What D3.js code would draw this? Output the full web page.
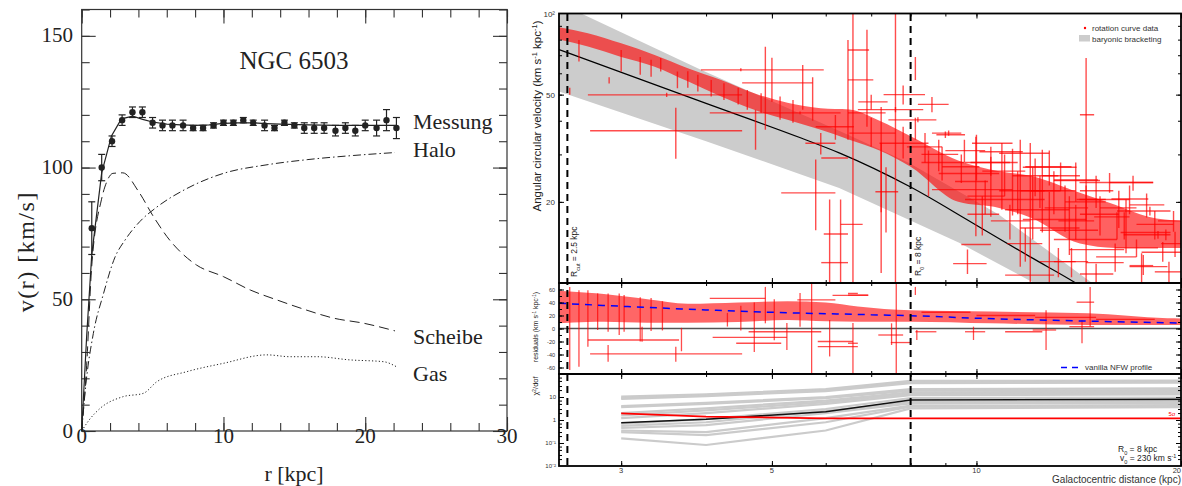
<!DOCTYPE html>
<html>
<head>
<meta charset="utf-8">
<script src="https://d3js.org/d3.v7.min.js"></script>
<style>
  body { margin: 0; background: #fff; }
  svg { display: block; }
</style>
</head>
<body>
<svg width="1182" height="486"></svg>
<script>
// ---------- left chart: NGC 6503 ----------
var messR   = [0.71, 1.41, 2.14, 2.85, 3.58, 4.28, 5.0, 5.7, 6.4, 7.15, 7.86, 8.56, 9.3, 10.0, 10.7, 11.4, 12.1, 12.9, 13.6, 14.3, 15.0, 15.7, 16.4, 17.1, 17.9, 18.6, 19.3, 20.0, 20.8, 21.5, 22.2];
var messV   = [77, 100, 110, 118, 121, 121, 117, 116, 116, 116, 115, 115, 116, 117, 117, 118, 117, 116, 115, 117, 116, 115, 115, 115, 114, 115, 114, 116, 115, 118, 115];
var messErr = [10, 5, 2, 2, 2, 2, 2, 2, 2, 2, 1, 1, 1, 1, 1, 1, 1, 2, 1, 1, 1, 2, 2, 2, 2, 2, 2, 2, 3, 4, 4];

var fitCurve  = [[0, 0], [0.35, 36], [0.71, 67], [1.41, 98], [2.1, 112], [2.8, 118.5], [3.6, 119.5], [4.3, 118.3], [5, 117.3], [6, 116.5], [7, 116.2], [8, 116], [9, 116.2], [10, 116.8], [11, 117], [12, 117], [13, 116.7], [14, 116.5], [16, 116.2], [18, 116], [20, 116], [22.2, 116]];
var haloCurve = [[0, 0], [0.3, 18], [0.82, 37], [1.53, 52], [2.35, 66], [3.06, 72.5], [4.1, 79.5], [5.3, 85], [7.4, 92], [10, 97.8], [13, 101], [15.9, 103], [19.2, 104.6], [22.1, 105.7]];
var diskCurve = [[0, 0], [0.35, 25], [0.7, 62], [1.4, 88], [1.76, 94.5], [2.2, 97.8], [2.9, 98], [4, 91], [5.06, 81.4], [6.2, 72.5], [7.06, 67.5], [8.1, 63], [10, 58.6], [11.9, 53.5], [13.8, 49.7], [15.8, 46], [17.8, 42.8], [19.9, 40.9], [22.1, 38]];
var gasCurve  = [[0, 0], [0.5, 4], [1.3, 8.6], [2.9, 13], [4.35, 14.3], [5.3, 18.7], [7.4, 22.5], [10, 25.7], [13.06, 28.9], [14.7, 28.2], [16.6, 28.2], [18.9, 27], [21.3, 26.3], [22.2, 24.4]];

var curveLabels = ["Messung", "Halo", "Scheibe", "Gas"];
var curveLabelV = [117.5, 107, 35.8, 21.7];
var leftXLabels = [0, 10, 20, 30];
var leftYLabels = [0, 50, 100, 150];

// ---------- right chart: Milky Way ----------
var bandUpper = [[2.43, 109], [2.62, 100], [3.93, 61.8], [6.47, 35.5], [7.96, 27.9], [10.8, 17.9], [14.8, 10], [20, 6]];
var bandLower = [[2.43, 51.3], [4, 33.6], [6.28, 22.5], [9.43, 14.1], [12.16, 10], [20, 5]];
var baryFit   = [[2.43, 73.5], [4, 46.4], [5.52, 34.5], [6.28, 30.4], [8, 22.7], [9.87, 16.7], [12, 12.5], [14, 10], [16, 8]];

// dense cloud of data points (envelope)
var denseR  = [2.43, 2.68, 3.0, 3.36, 3.76, 4.21, 4.71, 5.27, 5.9, 6.5, 7.2, 8.0, 9.4, 10.8, 12.0, 14.2, 16.0, 17.9, 20.0];
var denseHi = [89, 84.5, 77.5, 70.2, 62.7, 56.7, 50.6, 46.6, 44.5, 44, 40, 35, 28.5, 26, 25, 21.6, 19.5, 17.6, 17];
var denseLo = [80, 75.4, 69, 63.5, 56, 49.2, 43.9, 40.3, 37, 34, 31, 27, 20, 19, 17.5, 14, 13.5, 13.5, 13.5];

// short error streaks in the inner part [r, vLo, vHi]
var innerSpikes = [[2.52, 50, 53], [2.6, 66.3, 79.7], [2.88, 55, 58], [3.0, 60.9, 73.2], [3.2, 59.2, 69], [3.32, 58.3, 67.3], [3.43, 60.9, 68.3], [3.63, 52.8, 60.9], [3.76, 53, 61], [3.89, 51.3, 59.2], [4.07, 49.2, 56.7], [4.25, 47.8, 55.1], [4.46, 46, 53], [4.6, 43.9, 52], [4.82, 42.7, 50.6], [5.14, 40.3, 49.2], [5.37, 39.3, 47.8]];

// individual error bars [r, v, rLo, rHi, vLo, vHi]
var curveBars = [
  [3.50, 49.9, 2.68, 4.52, 49.0, 50.8], [3.61, 36.7, 2.70, 4.52, 28.9, 44.7], [4.50, 61.8, 3.93, 5.96, 61.0, 62.6],
  [4.89, 55.3, 4.52, 5.74, 37.0, 75.3], [5.00, 60.0, 5.00, 5.00, 47.0, 68.5], [5.55, 52.0, 5.55, 5.55, 43.9, 64.4],
  [5.74, 48.0, 5.74, 5.74, 40.0, 58.0], [4.73, 37.0, 4.73, 4.73, 31.2, 43.9], [5.50, 42.8, 4.05, 6.31, 42.3, 43.3],
  [6.47, 45.0, 6.47, 6.47, 34.0, 79.7], [6.10, 29.1, 5.91, 6.47, 29.1, 29.1], [5.80, 21.6, 5.16, 6.20, 15.7, 28.7],
  [6.08, 15.0, 6.08, 6.08, 10.0, 20.4], [6.20, 15.2, 5.96, 6.47, 15.2, 15.2], [6.31, 11.9, 5.91, 6.47, 10.0, 20.4],
  [6.58, 40.0, 6.58, 6.58, 10.0, 100], [7.60, 40.0, 7.60, 7.60, 10.0, 100], [6.90, 55.0, 6.90, 6.90, 38.0, 87.0],
  [6.70, 73.2, 6.47, 6.95, 73.2, 73.2], [6.80, 56.7, 6.47, 7.05, 56.7, 56.7], [7.24, 30.0, 7.24, 7.24, 18.3, 45.0],
  [6.90, 42.8, 6.47, 7.35, 42.8, 42.8], [7.36, 21.8, 7.10, 7.67, 15.4, 26.9], [8.13, 62.0, 8.13, 8.13, 56.7, 69.0],
  [8.13, 37.0, 8.13, 8.13, 34.0, 41.0], [9.00, 35.5, 8.73, 9.62, 34.5, 36.5], [9.98, 22.0, 9.98, 9.98, 14.9, 34.9],
  [10.5, 23.0, 10.5, 10.5, 17.6, 29.4], [9.80, 23.8, 9.30, 10.4, 23.8, 23.8], [12.0, 18.0, 12.0, 12.0, 10.0, 33.1],
  [12.1, 20.0, 12.1, 12.1, 14.5, 26.9], [12.5, 20.0, 12.5, 12.5, 15.4, 31.2], [14.5, 42.1, 14.2, 14.9, 10.0, 68.4],
  [15.7, 23.6, 14.18, 18.2, 21.6, 25.6], [16.6, 16.0, 16.6, 16.6, 12.9, 20.4], [17.8, 15.4, 16.3, 19.3, 15.4, 15.4],
  [17.5, 11.5, 16.8, 19.1, 10.0, 12.9], [15.8, 17.6, 14.9, 16.8, 17.6, 17.6], [12.5, 16.0, 11.6, 14.18, 16.0, 16.0],
  [15.5, 11.9, 14.5, 16.47, 11.9, 11.9], [12.0, 10.7, 11.02, 13.01, 10.7, 10.7], [10.0, 13.9, 9.5, 10.5, 13.9, 13.9],
  [15.5, 20.4, 14.18, 16.8, 20.4, 20.4], [9.70, 11.8, 9.24, 10.35, 10.8, 13.3], [7.24, 20.0, 7.24, 7.24, 10.9, 33.1],
  [6.60, 16.5, 6.31, 6.80, 16.5, 16.5], [17.0, 23.6, 15.7, 18.2, 22.0, 25.0], [18.5, 15.1, 16.47, 19.3, 14.6, 15.6],
  [17.6, 11.6, 16.8, 18.2, 10.7, 12.7], [16.1, 16.0, 16.1, 16.1, 14.5, 18.3], [11.0, 26.0, 10.2, 11.8, 21.0, 30.0],
  [11.5, 22.0, 10.8, 12.6, 18.0, 26.0], [12.2, 25.0, 11.3, 13.2, 21.0, 29.0], [13.0, 22.0, 12.0, 14.0, 18.0, 26.0],
  [13.5, 19.0, 12.6, 14.6, 15.5, 23.0], [14.0, 24.0, 13.0, 15.2, 20.0, 28.0], [10.5, 28.0, 9.8, 11.2, 25.0, 32.0],
  [9.50, 27.0, 8.9, 10.1, 23.5, 30.0], [8.80, 30.0, 8.3, 9.4, 26.0, 34.0], [8.40, 32.0, 7.9, 8.9, 28.0, 36.0],
  [12.8, 27.0, 11.8, 13.8, 23.0, 31.0], [14.5, 20.0, 13.5, 15.5, 17.0, 23.0], [15.2, 18.0, 14.2, 16.2, 15.0, 21.0],
  [16.2, 19.0, 15.2, 17.2, 16.0, 22.0], [10.2, 18.0, 9.7, 10.8, 15.0, 21.0], [10.0, 30.0, 10.0, 10.0, 24.0, 35.5],
  [10.9, 24.0, 10.9, 10.9, 18.7, 33.1], [11.3, 23.0, 11.3, 11.3, 17.8, 31.5], [11.6, 20.0, 11.6, 11.6, 11.5, 34.0],
  [12.8, 15.0, 12.8, 12.8, 10.0, 21.8], [13.7, 16.0, 13.7, 13.7, 12.7, 21.0], [10.8, 30.7, 10.1, 11.7, 30.7, 30.7],
  [10.5, 28.0, 9.62, 11.5, 28.0, 28.0], [9.90, 25.5, 8.8, 10.8, 25.5, 25.5], [9.90, 22.2, 8.6, 11.3, 22.2, 22.2],
  [11.1, 20.4, 9.62, 12.6, 20.4, 20.4], [12.3, 18.7, 11.02, 13.7, 18.7, 18.7], [13.0, 17.2, 11.7, 14.5, 17.2, 17.2],
  [13.5, 15.7, 12.4, 15.1, 15.7, 15.7], [14.3, 14.5, 13.0, 16.1, 14.5, 14.5], [14.8, 13.3, 13.7, 16.5, 13.3, 13.3],
  [14.7, 20.4, 14.04, 15.5, 20.4, 20.4], [14.2, 24.1, 13.0, 15.1, 24.1, 24.1], [12.6, 26.9, 11.7, 14.04, 26.9, 26.9],
  [11.7, 30.3, 10.8, 12.8, 30.3, 30.3], [10.4, 33.0, 9.85, 11.3, 33.0, 33.0], [9.10, 36.0, 8.6, 9.5, 35.2, 36.8],
  [8.20, 40.3, 7.42, 8.73, 39.5, 41.2], [7.60, 44.0, 6.69, 8.35, 43.0, 45.0], [18.0, 18.5, 16.1, 19.3, 17.8, 19.2],
  [19.0, 15.1, 19.0, 19.0, 14.4, 15.8], [16.5, 16.0, 16.5, 16.5, 14.5, 18.3], [8.50, 26.0, 8.50, 8.50, 21.0, 31.0],
  [16.0, 12.5, 15.0, 17.2, 11.0, 14.0], [18.8, 13.0, 17.5, 20.0, 12.0, 14.2], [15.0, 10.8, 14.2, 15.9, 10.0, 11.8],
  [19.5, 17.0, 18.5, 20.0, 15.5, 18.5], [13.2, 12.0, 12.4, 14.0, 10.5, 13.5], [17.2, 13.5, 16.0, 18.5, 12.5, 14.5],
  [19.2, 11.0, 18.3, 20.0, 10.0, 12.0], [7.80, 50.0, 7.30, 8.40, 46.0, 54.0], [8.60, 46.0, 8.20, 9.10, 43.0, 49.0],
  [7.00, 47.0, 6.70, 7.40, 44.0, 50.0], [7.00, 36.0, 6.50, 7.60, 32.0, 41.0], [7.80, 33.0, 7.20, 8.50, 29.0, 38.0],
  [8.90, 28.0, 8.30, 9.60, 24.0, 32.0], [9.60, 31.0, 9.00, 10.3, 28.0, 34.0], [10.3, 21.0, 9.70, 11.0, 18.0, 24.0],
  [11.2, 17.0, 10.5, 12.0, 14.5, 19.5], [12.4, 22.0, 11.6, 13.3, 19.0, 25.0], [13.3, 25.0, 12.5, 14.2, 22.0, 28.0],
  [14.0, 17.0, 13.2, 14.9, 14.5, 19.5], [15.0, 22.0, 14.2, 15.9, 19.0, 25.0], [16.8, 20.5, 15.8, 17.9, 18.0, 23.0],
  [18.3, 16.5, 17.2, 19.5, 14.5, 18.5], [19.6, 14.0, 18.7, 20.0, 12.5, 15.5], [17.8, 19.5, 16.8, 18.9, 17.5, 21.5],
  [13.8, 12.0, 13.0, 14.6, 10.5, 13.5], [11.8, 14.0, 11.1, 12.5, 12.0, 16.0], [6.20, 38.0, 5.80, 6.60, 34.0, 42.0],
  [5.90, 33.0, 5.60, 6.20, 30.0, 36.0]
];

// residual panel
var resR  = [2.43, 2.68, 2.83, 3.28, 3.76, 4.46, 5.27, 6.0, 6.69, 8.0, 10.5, 14.6, 19.1, 20];
var resHi = [58, 55, 53, 45, 38, 40, 42, 40, 34, 28, 26, 23.4, 15.8, 15.5];
var resLo = [8, 10, 10.5, 9, 9, 10, 13, 11, 10.5, 10.5, 8, 5.4, 5.4, 5.4];
var resSpikes = [[2.52, -64, 64], [2.6, -59, 59], [2.68, -28, 59], [2.77, -2.3, 54], [2.87, -5, 54], [2.98, -10, 54], [3.03, -5, 51.5], [3.2, -20, 48], [3.32, -4, 47], [3.45, -3, 42], [4.3, 3, 24], [4.5, -3, 35], [4.71, -36, 40], [5.04, -18, 45]];
var residBars = [
  [3.22, -17.7, 2.68, 3.65, -20.3, 2.8], [2.87, -39.0, 2.70, 4.52, -51.0, -25.4], [3.61, -40.0, 3.61, 3.61, -51.0, -28.0],
  [4.60, -13.5, 4.09, 5.26, -13.5, -13.5], [4.90, -22.7, 4.43, 5.16, -22.7, -22.7], [4.89, 46.5, 4.05, 4.89, 8.0, 64.0],
  [5.72, 0, 5.72, 5.72, -70, 70], [6.58, -40, 6.58, 6.58, -70, 8.5], [6.20, -28, 5.84, 6.69, -28, -28],
  [6.08, -15, 6.08, 6.08, -43, 13], [5.60, 44, 5.45, 6.20, 44, 44], [6.50, 51, 6.14, 6.93, 51, 51],
  [5.50, 30, 5.50, 5.50, 2.8, 54.6], [5.10, -5, 4.62, 5.91, -5, -5], [6.20, -20, 5.84, 6.58, -20, -20],
  [7.62, 0, 7.62, 7.62, -70, 70], [7.70, -21.6, 7.48, 8.02, -21.6, -21.6], [8.13, 58, 8.13, 8.13, 51.5, 64],
  [8.17, -10, 8.17, 8.17, -17.7, -2.3], [8.40, -5, 8.13, 8.73, -5, -5], [7.50, -10, 7.17, 7.80, -25.4, 8],
  [9.90, -5, 9.62, 10.3, -17.7, 2.8], [11.7, -5, 11.02, 12.5, -5, -5], [14.7, 40.5, 14.04, 14.9, 3, 64],
  [14.3, -5, 14.3, 14.3, -22.7, 13], [12.66, -2.3, 12.1, 13.1, -33, 28], [14.2, 2.8, 13.7, 14.9, 2.8, 2.8],
  [6.60, 54, 6.47, 6.69, 54, 54], [6.65, 51.5, 6.47, 6.93, 51.5, 51.5], [6.60, -22.7, 6.47, 6.69, -22.7, -22.7],
  [5.26, -20, 5.26, 5.26, -33, 8.5], [3.68, -10, 3.68, 3.68, -35, 1],
  [11.0, 20, 10.0, 12.2, 20, 20], [13.5, 17, 12.2, 15.0, 17, 17], [16.5, 14, 15.0, 18.3, 14, 14], [9.0, 25, 8.3, 9.8, 25, 25]
];
var nfwR = [2.43, 3.5, 5, 7, 8, 10.1, 13, 20];
var nfwV = [38.8, 31.1, 24.9, 21.2, 19.7, 15.7, 12.6, 8.3];

// chi^2 panel
var chiR = [3, 4, 6, 8, 20];
var chiGrey = [
  [10.3, 13, 22, 50, 52], [9.2, 12, 20, 44, 46], [8.3, 11, 18, 40, 42],
  [4.0, 5.5, 10, 22, 24], [3.6, 5.0, 9, 19, 20], [2.0, 3.2, 7, 16, 17],
  [1.6, 2.6, 6, 14, 15], [1.2, 2.0, 5, 12, 13], [0.7, 1.1, 3, 9, 9.5],
  [0.55, 0.8, 2.5, 6, 6.2], [0.45, 0.6, 2, 5.3, 5.5], [0.35, 0.3, 1.2, 4.2, 4.4],
  [0.3, 0.22, 0.8, 3.8, 4], [0.16, 0.082, 0.35, 3.2, 3.6]
];
var chiBest = [0.76, 1.07, 2.3, 7.4, 7.9];
var chi5sig = [1.95, 1.4, 1.18, 1.18, 1.18];

var rCut = 2.5, rSun = 8;
var xTickLabels = [3, 5, 10, 20];
var xTicks = [3, 4, 5, 6, 7, 8, 9, 10, 20];

var svg = d3.select("svg");
var serif = "'Liberation Serif', 'Times New Roman', serif";
var sans = "'Liberation Sans', Arial, Helvetica, sans-serif";

// ================= left chart =================
var L = svg.append("g");
var lx = d3.scaleLinear().domain([0, 30]).range([81.7, 507]);
var ly = d3.scaleLinear().domain([0, 160]).range([431, 9.5]);

function inward(parent, axisFn, scale, vals, len, tr) {
  var g = parent.append("g").attr("transform", tr)
    .call(axisFn(scale).tickValues(vals).tickSize(-len).tickSizeOuter(0).tickFormat(""));
  g.select(".domain").remove();
  return g;
}

var ax = [];
ax.push(inward(L, d3.axisBottom, lx, d3.range(0, 31, 2), 8, "translate(0," + ly(0) + ")"));
ax.push(inward(L, d3.axisBottom, lx, [0, 10, 20, 30], 14, "translate(0," + ly(0) + ")"));
ax.push(inward(L, d3.axisTop, lx, d3.range(0, 31, 2), 8, "translate(0," + ly(160) + ")"));
ax.push(inward(L, d3.axisTop, lx, [0, 10, 20, 30], 14, "translate(0," + ly(160) + ")"));
ax.push(inward(L, d3.axisLeft, ly, d3.range(0, 161, 10), 8, "translate(" + lx(0) + ",0)"));
ax.push(inward(L, d3.axisLeft, ly, [0, 50, 100, 150], 14, "translate(" + lx(0) + ",0)"));
ax.push(inward(L, d3.axisRight, ly, d3.range(0, 161, 10), 8, "translate(" + lx(30) + ",0)"));
ax.push(inward(L, d3.axisRight, ly, [0, 50, 100, 150], 14, "translate(" + lx(30) + ",0)"));
ax.forEach(function (g) { g.selectAll("line").attr("stroke", "#333").attr("stroke-width", 1.1); });

L.append("rect")
  .attr("x", lx(0)).attr("y", ly(160))
  .attr("width", lx(30) - lx(0)).attr("height", ly(0) - ly(160))
  .attr("fill", "none").attr("stroke", "#333").attr("stroke-width", 1.2);

L.selectAll(".xl").data(leftXLabels).enter().append("text")
  .attr("x", function (d) { return lx(d); }).attr("y", 443)
  .attr("text-anchor", "middle").attr("font-family", serif).attr("font-size", 21).attr("fill", "#222")
  .text(function (d) { return d; });
L.selectAll(".yl").data(leftYLabels).enter().append("text")
  .attr("x", 73).attr("y", function (d) { return ly(d) + 6.5; })
  .attr("text-anchor", "end").attr("font-family", serif).attr("font-size", 21).attr("fill", "#222")
  .text(function (d) { return d; });

var lline = d3.line().x(function (d) { return lx(d[0]); }).y(function (d) { return ly(d[1]); });
var lsmooth = d3.line().x(function (d) { return lx(d[0]); }).y(function (d) { return ly(d[1]); }).curve(d3.curveMonotoneX);

L.append("path").attr("d", lsmooth(haloCurve)).attr("fill", "none").attr("stroke", "#222").attr("stroke-width", 1)
  .attr("stroke-dasharray", "8,3,1.5,3");
L.append("path").attr("d", lsmooth(diskCurve)).attr("fill", "none").attr("stroke", "#222").attr("stroke-width", 1)
  .attr("stroke-dasharray", "10,5");
L.append("path").attr("d", lsmooth(gasCurve)).attr("fill", "none").attr("stroke", "#222").attr("stroke-width", 1)
  .attr("stroke-dasharray", "1.2,2.2");
L.append("path").attr("d", lline(fitCurve)).attr("fill", "none").attr("stroke", "#222").attr("stroke-width", 1.2);

var pts = L.append("g").attr("stroke", "#222").attr("stroke-width", 1.2);
messR.forEach(function (r, i) {
  var x = lx(r), y0 = ly(messV[i] - messErr[i]), y1 = ly(messV[i] + messErr[i]);
  pts.append("line").attr("x1", x).attr("x2", x).attr("y1", y0).attr("y2", y1);
  pts.append("line").attr("x1", x - 3.5).attr("x2", x + 3.5).attr("y1", y0).attr("y2", y0);
  pts.append("line").attr("x1", x - 3.5).attr("x2", x + 3.5).attr("y1", y1).attr("y2", y1);
});
L.selectAll(".pt").data(messR).enter().append("circle")
  .attr("cx", function (d) { return lx(d); })
  .attr("cy", function (d, i) { return ly(messV[i]); })
  .attr("r", 3.2).attr("fill", "#222");

L.selectAll(".cl").data(curveLabels).enter().append("text")
  .attr("x", 413).attr("y", function (d, i) { return ly(curveLabelV[i]) + 7.5; })
  .attr("font-family", serif).attr("font-size", 22).attr("fill", "#222")
  .text(function (d) { return d; });
L.append("text").attr("x", 294).attr("y", 69).attr("text-anchor", "middle")
  .attr("font-family", serif).attr("font-size", 25).attr("fill", "#222").text("NGC 6503");
L.append("text").attr("x", 294).attr("y", 481).attr("text-anchor", "middle")
  .attr("font-family", serif).attr("font-size", 22).attr("fill", "#222").text("r [kpc]");
L.append("text").attr("transform", "translate(34,251.7) rotate(-90)").attr("text-anchor", "middle")
  .attr("font-family", serif).attr("font-size", 24).attr("letter-spacing", 1.5).attr("fill", "#222").text("v(r) [km/s]");

// ================= right chart =================
var R = svg.append("g");
var rx = d3.scaleLog().domain([2.43, 20]).range([559, 1181]);
var vy = d3.scaleLog().domain([10, 100]).range([283, 13.5]);
var ry = d3.scaleLinear().domain([-70, 70]).range([374, 283]);
var cy = d3.scaleLog().domain([0.01, 100]).range([466, 374]);

var defs = svg.append("defs");
function clip(id, y0, y1) {
  defs.append("clipPath").attr("id", id).append("rect")
    .attr("x", rx.range()[0]).attr("y", y0)
    .attr("width", rx.range()[1] - rx.range()[0]).attr("height", y1 - y0);
}
clip("cTop", 13.5, 283); clip("cRes", 283, 374); clip("cChi", 374, 466);

function drawBars(g, data, yS) {
  g.selectAll(null).data(data.filter(function (d) { return d[2] < d[3]; })).enter().append("line")
    .attr("x1", function (d) { return rx(d[2]); }).attr("x2", function (d) { return rx(d[3]); })
    .attr("y1", function (d) { return yS(d[1]); }).attr("y2", function (d) { return yS(d[1]); });
  g.selectAll(null).data(data.filter(function (d) { return d[4] < d[5]; })).enter().append("line")
    .attr("x1", function (d) { return rx(d[0]); }).attr("x2", function (d) { return rx(d[0]); })
    .attr("y1", function (d) { return yS(d[4]); }).attr("y2", function (d) { return yS(d[5]); });
}

// --- top panel ---
var topG = R.append("g").attr("clip-path", "url(#cTop)");
var pline = d3.line().x(function (d) { return rx(d[0]); }).y(function (d) { return vy(d[1]); });
topG.append("path").attr("d", pline(bandUpper.concat(bandLower.slice().reverse())) + "Z").attr("fill", "#cccccc");
topG.append("path").attr("d", pline.curve(d3.curveMonotoneX)(baryFit)).attr("fill", "none").attr("stroke", "#000").attr("stroke-width", 1.2);
topG.append("path")
  .attr("d", d3.area().x(function (d, i) { return rx(denseR[i]); })
    .y0(function (d, i) { return vy(denseLo[i]); }).y1(function (d, i) { return vy(denseHi[i]); })
    .curve(d3.curveMonotoneX)(denseR))
  .attr("fill", "#ff0000").attr("fill-opacity", 0.62);
var topBars = topG.append("g").attr("stroke", "#ff0000").attr("stroke-opacity", 0.7).attr("stroke-width", 1.4);
topBars.selectAll(null).data(innerSpikes).enter().append("line")
  .attr("x1", function (d) { return rx(d[0]); }).attr("x2", function (d) { return rx(d[0]); })
  .attr("y1", function (d) { return vy(d[1]); }).attr("y2", function (d) { return vy(d[2]); });
drawBars(topBars, curveBars, vy);

// --- residual panel ---
var res = R.append("g").attr("clip-path", "url(#cRes)");
res.append("line").attr("x1", rx.range()[0]).attr("x2", rx.range()[1])
  .attr("y1", ry(0)).attr("y2", ry(0)).attr("stroke", "#555").attr("stroke-width", 1.3);
res.append("path")
  .attr("d", d3.area().x(function (d, i) { return rx(resR[i]); })
    .y0(function (d, i) { return ry(resLo[i]); }).y1(function (d, i) { return ry(resHi[i]); })
    .curve(d3.curveMonotoneX)(resR))
  .attr("fill", "#ff0000").attr("fill-opacity", 0.6);
var resG = res.append("g").attr("stroke", "#ff0000").attr("stroke-opacity", 0.7).attr("stroke-width", 1.3);
resG.selectAll(null).data(resSpikes).enter().append("line")
  .attr("x1", function (d) { return rx(d[0]); }).attr("x2", function (d) { return rx(d[0]); })
  .attr("y1", function (d) { return ry(d[1]); }).attr("y2", function (d) { return ry(d[2]); });
drawBars(resG, residBars, ry);
res.append("path")
  .attr("d", d3.line().x(function (d) { return rx(d); }).y(function (d, i) { return ry(nfwV[i]); }).curve(d3.curveMonotoneX)(nfwR))
  .attr("fill", "none").attr("stroke", "#0000ff").attr("stroke-width", 1.5).attr("stroke-dasharray", "7,6");

// --- chi^2 panel ---
var chi = R.append("g").attr("clip-path", "url(#cChi)");
var cline = d3.line().x(function (d, i) { return rx(chiR[i]); }).y(function (d) { return cy(d); });
chi.selectAll(null).data(chiGrey).enter().append("path")
  .attr("d", cline).attr("fill", "none").attr("stroke", "#cbcbcb").attr("stroke-width", 2.2);
chi.append("path").attr("d", cline(chiBest)).attr("fill", "none").attr("stroke", "#111").attr("stroke-width", 1.6);
chi.append("path").attr("d", cline(chi5sig)).attr("fill", "none").attr("stroke", "#ff0000").attr("stroke-width", 1.8);

// --- frames and ticks ---
function panelTicks(yS, y0, y1, yMinor, yMajor) {
  var g = R.append("g");
  [[d3.axisBottom, y1], [d3.axisTop, y0]].forEach(function (p) {
    inward(g, p[0], rx, xTicks, 3, "translate(0," + p[1] + ")");
    inward(g, p[0], rx, xTickLabels, 5, "translate(0," + p[1] + ")");
  });
  [[d3.axisLeft, rx.range()[0]], [d3.axisRight, rx.range()[1]]].forEach(function (p) {
    inward(g, p[0], yS, yMinor, 3, "translate(" + p[1] + ",0)");
    inward(g, p[0], yS, yMajor, 5, "translate(" + p[1] + ",0)");
  });
  g.selectAll("line").attr("stroke", "#000").attr("stroke-width", 1);
  R.append("rect").attr("x", rx.range()[0]).attr("y", y0)
    .attr("width", rx.range()[1] - rx.range()[0]).attr("height", y1 - y0)
    .attr("fill", "none").attr("stroke", "#000").attr("stroke-width", 1.8);
}
panelTicks(vy, 13.5, 283, [20, 30, 40, 50, 60, 70, 80, 90], [20, 50]);
panelTicks(ry, 283, 374, d3.range(-60, 61, 10), [-60, -40, -20, 0, 20, 40, 60]);
panelTicks(cy, 374, 466, [0.02, 0.03, 0.05, 0.07, 0.2, 0.3, 0.5, 0.7, 2, 3, 5, 7, 20, 30, 50, 70], [0.1, 1, 10]);

// dashed reference radii
R.selectAll(".ref").data([rCut, rSun]).enter().append("line")
  .attr("x1", function (d) { return rx(d); }).attr("x2", function (d) { return rx(d); })
  .attr("y1", 14).attr("y2", 466)
  .attr("stroke", "#000").attr("stroke-width", 2).attr("stroke-dasharray", "7,5");

// tick labels
var tl = R.append("g").attr("font-family", sans).attr("fill", "#333");
tl.selectAll(null).data(xTickLabels).enter().append("text")
  .attr("x", function (d) { return d === 20 ? 1181 : rx(d); }).attr("y", 473)
  .attr("text-anchor", function (d) { return d === 20 ? "end" : "middle"; }).attr("font-size", 7.5)
  .text(function (d) { return d; });
tl.selectAll(null).data([[100, "10²"], [50, "50"], [20, "20"]]).enter().append("text")
  .attr("x", 555).attr("y", function (d) { return vy(d[0]) + 3; }).attr("text-anchor", "end").attr("font-size", 8)
  .text(function (d) { return d[1]; });
tl.selectAll(null).data([-60, -40, -20, 0, 20, 40, 60]).enter().append("text")
  .attr("x", 555).attr("y", function (d) { return ry(d) + 2; }).attr("text-anchor", "end").attr("font-size", 5.5)
  .text(function (d) { return d; });
tl.selectAll(null).data([[10, "10"], [1, "1"], [0.1, "10⁻¹"], [0.01, "10⁻²"]]).enter().append("text")
  .attr("x", 556).attr("y", function (d) { return cy(d[0]) + 2.2; }).attr("text-anchor", "end").attr("font-size", 6)
  .text(function (d) { return d[1]; });

// axis titles
function sup(t, s) { t.append("tspan").attr("baseline-shift", "super").attr("font-size", "65%").text(s); }
function sub(t, s) { t.append("tspan").attr("baseline-shift", "sub").attr("font-size", "65%").text(s); }

var yt = R.append("text").attr("transform", "translate(541,116) rotate(-90)").attr("text-anchor", "middle")
  .attr("font-family", sans).attr("font-size", 11.5).attr("fill", "#222");
yt.append("tspan").text("Angular circular velocity (km s"); sup(yt, "-1"); yt.append("tspan").text(" kpc"); sup(yt, "-1"); yt.append("tspan").text(")");

var rt = R.append("text").attr("transform", "translate(537.5,327) rotate(-90)").attr("text-anchor", "middle")
  .attr("font-family", sans).attr("font-size", 7).attr("fill", "#222");
rt.append("tspan").text("residuals (km s"); sup(rt, "-1"); rt.append("tspan").text(" kpc"); sup(rt, "-1"); rt.append("tspan").text(")");

var ct = R.append("text").attr("transform", "translate(537.5,386) rotate(-90)").attr("text-anchor", "middle")
  .attr("font-family", sans).attr("font-size", 7.5).attr("fill", "#222");
ct.append("tspan").text("χ"); sup(ct, "2"); ct.append("tspan").text("/dof");

R.append("text").attr("x", 1181).attr("y", 483).attr("text-anchor", "end")
  .attr("font-family", sans).attr("font-size", 10).attr("fill", "#333").text("Galactocentric distance (kpc)");

var t1 = R.append("text").attr("transform", "translate(577,277) rotate(-90)")
  .attr("font-family", sans).attr("font-size", 8.5).attr("fill", "#222");
t1.append("tspan").text("R"); sub(t1, "cut"); t1.append("tspan").text(" = 2.5 kpc");
var t2 = R.append("text").attr("transform", "translate(921,276) rotate(-90)")
  .attr("font-family", sans).attr("font-size", 8.5).attr("fill", "#222");
t2.append("tspan").text("R"); sub(t2, "0"); t2.append("tspan").text(" = 8 kpc");

var t3 = R.append("text").attr("x", 1118).attr("y", 452).attr("font-family", sans).attr("font-size", 8.5).attr("fill", "#222");
t3.append("tspan").text("R"); sub(t3, "0"); t3.append("tspan").text(" = 8 kpc");
var t4 = R.append("text").attr("x", 1120).attr("y", 461).attr("font-family", sans).attr("font-size", 8.5).attr("fill", "#222");
t4.append("tspan").text("v"); sub(t4, "0"); t4.append("tspan").text(" = 230 km s"); sup(t4, "-1");

R.append("text").attr("x", 1172).attr("y", 416).attr("text-anchor", "middle")
  .attr("font-family", sans).attr("font-size", 6).attr("fill", "#ff0000").text("5σ");

// legends
var lg = R.append("g").attr("font-family", sans).attr("font-size", 8).attr("fill", "#333");
lg.append("circle").attr("cx", 1085).attr("cy", 28).attr("r", 1.2).attr("fill", "#ff0000");
lg.append("text").attr("x", 1092).attr("y", 31).text("rotation curve data");
lg.append("rect").attr("x", 1079).attr("y", 35).attr("width", 11).attr("height", 6.5).attr("fill", "#cccccc");
lg.append("text").attr("x", 1092).attr("y", 41.5).text("baryonic bracketing");
lg.append("line").attr("x1", 1061).attr("x2", 1079).attr("y1", 367.5).attr("y2", 367.5)
  .attr("stroke", "#0000ff").attr("stroke-width", 1.5).attr("stroke-dasharray", "6,5");
lg.append("text").attr("x", 1085).attr("y", 370).text("vanilla NFW profile");
</script>
</body>
</html>
